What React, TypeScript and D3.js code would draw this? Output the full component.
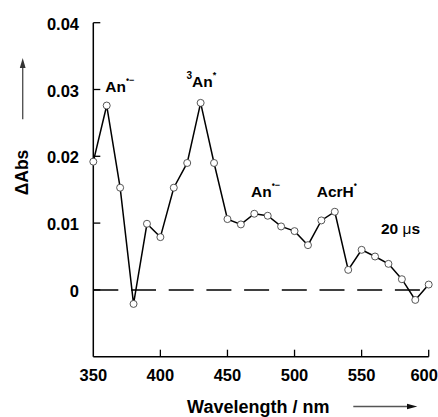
import React from "react";
import * as d3 from "d3";

const wavelengths = [350, 360, 370, 380, 390, 400, 410, 420, 430, 440, 450, 460, 470, 480, 490, 500, 510, 520, 530, 540, 550, 560, 570, 580, 590, 600];
const deltaAbs = [0.0192, 0.0276, 0.0153, -0.0021, 0.0099, 0.0079, 0.0153, 0.0190, 0.0280, 0.0190, 0.0106, 0.0098, 0.0114, 0.0111, 0.0095, 0.0088, 0.0067, 0.0104, 0.0117, 0.0030, 0.0060, 0.0050, 0.0039, 0.0016, -0.0015, 0.0008];
const xTicks = [350, 400, 450, 500, 550, 600];
const yTicks = [0, 0.01, 0.02, 0.03, 0.04];
const yTickLabels = ["0", "0.01", "0.02", "0.03", "0.04"];

const FONT = "'Liberation Sans', Arial, Helvetica, sans-serif";

export default function App() {
  const x = d3.scaleLinear().domain([350, 600]).range([93.3, 428.7]);
  const y = d3.scaleLinear().domain([-0.01, 0.04]).range([356.7, 22.7]);
  const line = d3.line<number>().x((_, i) => x(wavelengths[i])).y((d) => y(d));
  const x0 = x(350), x1 = x(600), yb = y(-0.01), yt = y(0.04);

  return (
    <svg width={438} height={417} style={{ position: "absolute", left: 0, top: 0, background: "#fff" }} fontFamily={FONT} fontWeight="bold">
      {/* axes */}
      <line x1={x0} y1={yt} x2={x0} y2={yb} stroke="#000" strokeWidth={1.5} />
      <line x1={x0} y1={yb} x2={x1} y2={yb} stroke="#000" strokeWidth={1.5} />
      {yTicks.map((t, i) => (
        <g key={"y" + t}>
          <line x1={x0} x2={x0 + 7} y1={y(t)} y2={y(t)} stroke="#000" strokeWidth={1.3} />
          <text x={79} y={y(t) + 7} textAnchor="end" fontSize={16.5}>{yTickLabels[i]}</text>
        </g>
      ))}
      {xTicks.map((t, i) => (
        <g key={"x" + t}>
          {t !== 350 && <line x1={x(t)} x2={x(t)} y1={yb} y2={yb - 7} stroke="#000" strokeWidth={1.3} />}
          <text x={i === xTicks.length - 1 ? x(t) - 4.5 : x(t)} y={381} textAnchor="middle" fontSize={16.5}>{t}</text>
        </g>
      ))}
      {/* zero dashed line */}
      <line x1={x0} x2={x1} y1={y(0)} y2={y(0)} stroke="#000" strokeWidth={1.5} strokeDasharray="25 12.7" />
      {/* data */}
      <path d={line(deltaAbs) || ""} fill="none" stroke="#000" strokeWidth={1.5} />
      {deltaAbs.map((v, i) => (
        <circle key={i} cx={x(wavelengths[i])} cy={y(v)} r={3.5} fill="#fff" stroke="#444" strokeWidth={0.9} />
      ))}
      {/* annotations */}
      <text x={105.3} y={91.7} fontSize={15.5}>An<tspan fontSize={9} dy={-9}>•−</tspan></text>
      <text x={186.5} y={87.3} fontSize={15.5}><tspan fontSize={10} dy={-8}>3</tspan><tspan dy={8}>An</tspan><tspan fontSize={9} dy={-9}>*</tspan></text>
      <text x={251} y={196.7} fontSize={15.5}>An<tspan fontSize={9} dy={-9}>•−</tspan></text>
      <text x={316.7} y={196.7} fontSize={15.5}>AcrH<tspan fontSize={9} dy={-9}>•</tspan></text>
      <text x={381} y={234} fontSize={15.5}>20 <tspan fontWeight="normal">μ</tspan>s</text>
      {/* axis titles */}
      <text transform="translate(27.5,172.5) rotate(-90)" textAnchor="middle" fontSize={17.5}>ΔAbs</text>
      <text x={258.3} y={412.5} textAnchor="middle" fontSize={18}>Wavelength / nm</text>
      {/* arrows */}
      <line x1={22.7} y1={119.3} x2={22.7} y2={66} stroke="#555" strokeWidth={1.4} />
      <path d="M22.7,58 L19.8,68 L25.6,68 Z" fill="#333" />
      <line x1={353.3} y1={406.5} x2={410} y2={406.5} stroke="#555" strokeWidth={1.3} />
      <path d="M417.3,406.5 L407,403.7 L407,409.3 Z" fill="#111" />
    </svg>
  );
}
